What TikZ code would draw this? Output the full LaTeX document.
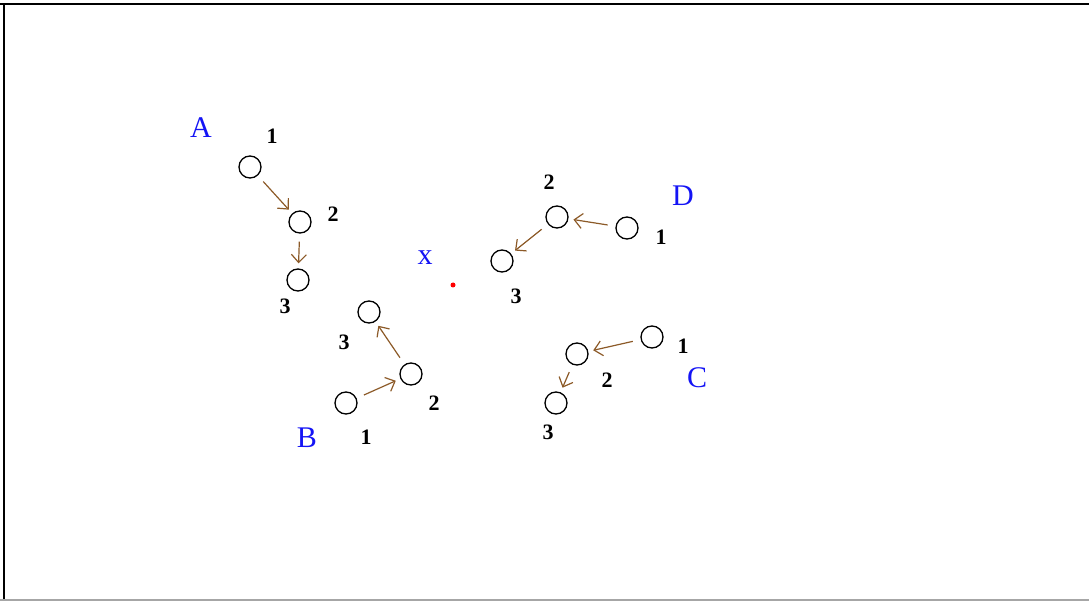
\documentclass[tikz,border=0pt]{standalone}
\usepackage{fontspec}
\setmainfont{Liberation Serif}
\usetikzlibrary{arrows.meta}
\definecolor{arrowbrown}{RGB}{140,90,40}
\definecolor{labelblue}{RGB}{20,20,245}
\tikzset{
  site/.style={circle,draw=black,line width=1.3pt,minimum size=22pt,inner sep=0pt},
  num/.style={font=\fontsize{22}{22}\selectfont\bfseries,inner sep=0pt},
  grp/.style={font=\fontsize{30}{30}\selectfont,text=labelblue,inner sep=0pt},
  move/.style={draw=arrowbrown,line width=1.2pt,-{Straight Barb[length=8pt,width=15pt,line width=1.2pt]},
    shorten <=8pt,shorten >=5pt},
}
\begin{document}
\begin{tikzpicture}[x=1pt,y=-1pt]
  \useasboundingbox (0,0) rectangle (1089,601);
  % frame
  \draw[line width=2pt] (0,4) -- (1089,4);
  \draw[line width=2pt] (4,4) -- (4,601);
  \draw[line width=1.5pt,gray!70] (0,600) -- (1089,600);

  % centre point
  \node[grp] (xlab) at (425,258) {x};
  \fill[red] (453,285) circle (2.5pt) coordinate (xc);

  % group A
  \node[grp] (A) at (201,128) {A};
  \node[site] (A1) at (250,167) {};
  \node[site] (A2) at (300,222) {};
  \node[site] (A3) at (298,280) {};
  \node[num] (a1) at (272,136) {1};
  \node[num] (a2) at (333,214) {2};
  \node[num] (a3) at (285,306) {3};
  \draw[move] (A1) -- (A2);
  \draw[move] (A2) -- (A3);

  % group B
  \node[grp] (B) at (307,438) {B};
  \node[site] (B1) at (346,403) {};
  \node[site] (B2) at (411,374) {};
  \node[site] (B3) at (369,312) {};
  \node[num] (b1) at (366,437) {1};
  \node[num] (b2) at (434,403) {2};
  \node[num] (b3) at (344,342) {3};
  \draw[move] (B1) -- (B2);
  \draw[move] (B2) -- (B3);

  % group C
  \node[grp] (C) at (697,378) {C};
  \node[site] (C1) at (652,337) {};
  \node[site] (C2) at (577,354) {};
  \node[site] (C3) at (556,403) {};
  \node[num] (c1) at (683,346) {1};
  \node[num] (c2) at (607,380) {2};
  \node[num] (c3) at (548,432) {3};
  \draw[move] (C1) -- (C2);
  \draw[move] (C2) -- (C3);

  % group D
  \node[grp] (D) at (683,196) {D};
  \node[site] (D1) at (627,228) {};
  \node[site] (D2) at (557,217) {};
  \node[site] (D3) at (502,261) {};
  \node[num] (d1) at (661,237) {1};
  \node[num] (d2) at (549,182) {2};
  \node[num] (d3) at (516,296) {3};
  \draw[move] (D1) -- (D2);
  \draw[move] (D2) -- (D3);
\end{tikzpicture}
\end{document}
